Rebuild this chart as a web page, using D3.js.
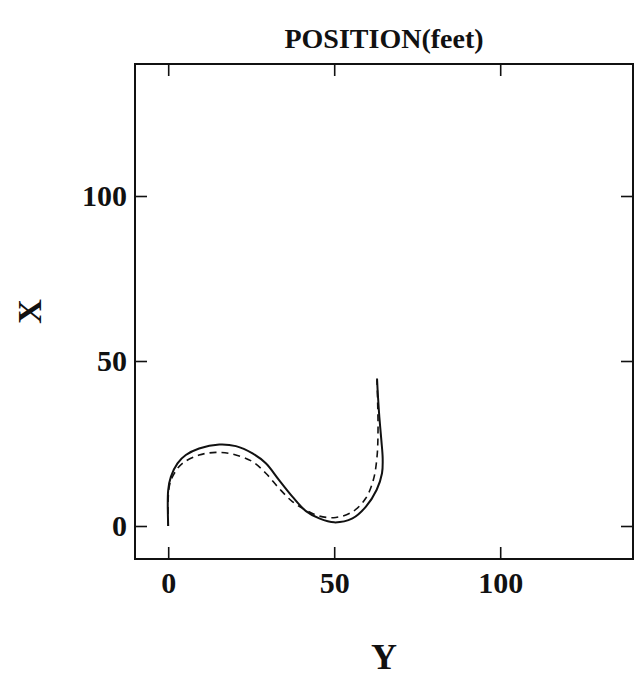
<!DOCTYPE html>
<html>
<head>
<meta charset="utf-8">
<script src="https://cdn.jsdelivr.net/npm/d3@7"></script>
<style>
  body { margin: 0; background: #fff; }
  text { font-family: "Liberation Serif", "Times New Roman", serif; font-weight: bold; fill: #111; }
</style>
</head>
<body>
<div id="chart"></div>
<script>
// solid curve (Y, X) in feet
var solidY = [0, 0, 0.8, 2.8, 5.3, 9.3, 15.4, 20.4, 25.4, 29.4, 33.4, 37.4, 41.5, 45.5, 50, 55.5, 59.5, 62.8, 64.4, 64.6, 64.2, 63.6, 63.2, 62.9];
var solidX = [0, 10.9, 14.9, 19, 21.5, 23.5, 24.7, 24.2, 22, 19, 13.9, 8.9, 4.5, 2.3, 1.1, 2.3, 5.8, 11.0, 16.0, 20.5, 26, 33, 39, 44.7];
// dashed curve
var dashY = [0, 0.3, 1.8, 4.3, 9.3, 14.4, 19.4, 25.4, 29.4, 33.4, 37.4, 41.5, 45.5, 50.5, 55.5, 59.5, 61.8, 62.9, 63.2, 63.1, 62.9];
var dashX = [0, 11.9, 15.9, 19, 21.5, 22.3, 21.8, 19.5, 16, 11.4, 7.4, 4.8, 3.0, 2.6, 4.3, 8.4, 14.0, 21, 29, 37, 44.2];
var tickVals = [0, 50, 100];

var width = 640, height = 676;
var margin = { top: 64, right: 7, bottom: 117, left: 135 };
var w = width - margin.left - margin.right,
  h = height - margin.top - margin.bottom;

var svg = d3
  .select("#chart")
  .append("svg")
  .attr("width", width)
  .attr("height", height);

var g = svg
  .append("g")
  .attr("transform", "translate(" + margin.left + "," + margin.top + ")");

var x = d3.scaleLinear().domain([-10, 140]).range([0, w]);
var y = d3.scaleLinear().domain([-10, 140]).range([h, 0]);

// axes with inward ticks
g.append("g")
  .attr("transform", "translate(0," + h + ")")
  .call(d3.axisBottom(x).tickValues(tickVals).tickSize(-12).tickPadding(13));
g.append("g")
  .call(d3.axisLeft(y).tickValues(tickVals).tickSize(-12).tickPadding(8));
g.append("g")
  .call(d3.axisTop(x).tickValues(tickVals).tickSize(-12).tickFormat(""));
g.append("g")
  .attr("transform", "translate(" + w + ",0)")
  .call(d3.axisRight(y).tickValues(tickVals).tickSize(-12).tickFormat(""));

g.selectAll(".domain").remove();
g.selectAll(".tick line").attr("stroke", "#111").attr("stroke-width", 1.6);
g.selectAll(".tick text")
  .style("font-size", "30px")
  .style("font-family", "Liberation Serif, serif")
  .style("font-weight", "bold")
  .attr("fill", "#111");

// frame
g.append("rect")
  .attr("x", 0)
  .attr("y", 0)
  .attr("width", w)
  .attr("height", h)
  .attr("fill", "none")
  .attr("stroke", "#111")
  .attr("stroke-width", 2);

var line = d3
  .line()
  .x(function (d) { return x(d[0]); })
  .y(function (d) { return y(d[1]); })
  .curve(d3.curveCatmullRom);

g.append("path")
  .datum(d3.zip(solidY, solidX))
  .attr("fill", "none")
  .attr("stroke", "#111")
  .attr("stroke-width", 2)
  .attr("d", line);

g.append("path")
  .datum(d3.zip(dashY, dashX))
  .attr("fill", "none")
  .attr("stroke", "#111")
  .attr("stroke-width", 1.6)
  .attr("stroke-dasharray", "7,5")
  .attr("d", line);

// titles
svg.append("text")
  .attr("x", margin.left + w / 2)
  .attr("y", 48)
  .attr("text-anchor", "middle")
  .style("font-size", "28px")
  .text("POSITION(feet)");

svg.append("text")
  .attr("x", margin.left + w / 2)
  .attr("y", 669)
  .attr("text-anchor", "middle")
  .style("font-size", "36px")
  .text("Y");

svg.append("text")
  .attr("transform", "translate(41," + (margin.top + h / 2) + ") rotate(-90)")
  .attr("text-anchor", "middle")
  .style("font-size", "34px")
  .text("X");
</script>
</body>
</html>
